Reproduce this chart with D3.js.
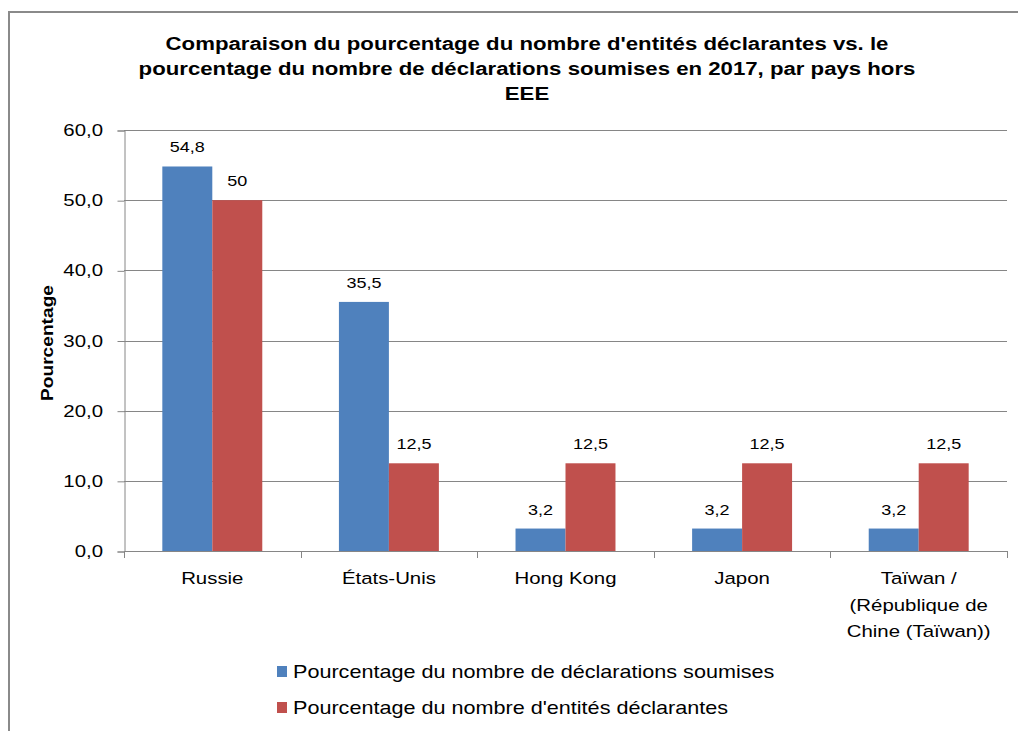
<!DOCTYPE html>
<html>
<head>
<meta charset="utf-8">
<script src="https://cdn.jsdelivr.net/npm/d3@7"></script>
<style>
  body { margin: 0; background: #fff; }
  text { font-family: "Liberation Sans", Arial, sans-serif; fill: #000; }
</style>
</head>
<body>
<script>
// chart data
var categories = ["Russie", "États-Unis", "Hong Kong", "Japon", "Taïwan / (République de Chine (Taïwan))"];
var categoryLines = [["Russie"], ["États-Unis"], ["Hong Kong"], ["Japon"], ["Taïwan /", "(République de", "Chine (Taïwan))"]];
var seriesNames = ["Pourcentage du nombre de déclarations soumises", "Pourcentage du nombre d'entités déclarantes"];
var declarations = [54.8, 35.5, 3.2, 3.2, 3.2];
var entites = [50, 12.5, 12.5, 12.5, 12.5];
var declLabels = ["54,8", "35,5", "3,2", "3,2", "3,2"];
var entLabels = ["50", "12,5", "12,5", "12,5", "12,5"];
var yTicks = [0, 10, 20, 30, 40, 50, 60];
var titleLines = [
    "Comparaison du pourcentage du nombre d'entités déclarantes vs. le",
    "pourcentage du nombre de déclarations soumises en 2017, par pays hors",
    "EEE"
];
var colors = ["#4F81BD", "#C0504D"];

var W = 1018, H = 731, SX = 1.2;
var plot = {left: 124, right: 1007, top: 130, bottom: 551};

var svg = d3.select('body').append('svg')
    .attr('width', W)
    .attr('height', H);

// text is drawn slightly widened, like in the picture
function label(g, x, y, str, size, anchor, weight) {
    return g.append('text')
        .attr('transform', 'translate(' + x + ',' + y + ') scale(' + SX + ',1)')
        .attr('text-anchor', anchor || 'middle')
        .style('font-size', size + 'px')
        .style('font-weight', weight || 'normal')
        .text(str);
}

// outer frame (top and left edge only are visible)
svg.append('path')
    .attr('d', 'M9,' + H + 'V12H' + W)
    .attr('fill', 'none')
    .attr('stroke', '#8a8a8a')
    .attr('stroke-width', 2);

var y = d3.scaleLinear().domain([0, 60]).range([plot.bottom, plot.top]);
var x0 = d3.scaleBand().domain(categories).range([plot.left, plot.right])
    .paddingInner(0.434).paddingOuter(0.217);
var x1 = d3.scaleBand().domain([0, 1]).range([0, x0.bandwidth()]);
var step = x0.step();

// gridlines
svg.append('g').selectAll('line').data(yTicks.slice(1)).join('line')
    .attr('x1', plot.left).attr('x2', plot.right)
    .attr('y1', function (d) { return Math.round(y(d)) + 0.5; })
    .attr('y2', function (d) { return Math.round(y(d)) + 0.5; })
    .attr('stroke', '#868686');

// y axis
var yAxis = svg.append('g')
    .attr('transform', 'translate(' + (plot.left + 0.5) + ',0.5)')
    .call(d3.axisLeft(y).tickValues(yTicks).tickSize(7).tickFormat(''));
yAxis.select('.domain').attr('stroke', '#868686');
yAxis.selectAll('.tick line').attr('stroke', '#868686');
yTicks.forEach(function (t) {
    label(svg, 103, y(t) + 6, d3.format('.1f')(t).replace('.', ','), 17, 'end');
});

// x axis
svg.append('line')
    .attr('x1', plot.left).attr('x2', plot.right)
    .attr('y1', plot.bottom + 0.5).attr('y2', plot.bottom + 0.5)
    .attr('stroke', '#868686');
svg.append('g').selectAll('line').data(d3.range(categories.length + 1)).join('line')
    .attr('x1', function (i) { return Math.round(plot.left + i * step) + 0.5; })
    .attr('x2', function (i) { return Math.round(plot.left + i * step) + 0.5; })
    .attr('y1', plot.bottom).attr('y2', plot.bottom + 7)
    .attr('stroke', '#868686');

// bars
var groups = svg.append('g').selectAll('g').data(categories).join('g')
    .attr('transform', function (d) { return 'translate(' + x0(d) + ',0)'; });

[declarations, entites].forEach(function (vals, s) {
    groups.append('rect')
        .attr('x', x1(s))
        .attr('width', x1.bandwidth())
        .attr('y', function (d, i) { return y(vals[i]); })
        .attr('height', function (d, i) { return plot.bottom - y(vals[i]); })
        .attr('fill', colors[s]);
});

// data labels
var labs = [declLabels, entLabels];
var vals = [declarations, entites];
categories.forEach(function (c, i) {
    [0, 1].forEach(function (s) {
        label(svg, x0(c) + x1(s) + x1.bandwidth() / 2, y(vals[s][i]) - 14, labs[s][i], 15);
    });
});

// category labels
categories.forEach(function (c, i) {
    categoryLines[i].forEach(function (ln, k) {
        label(svg, x0(c) + x0.bandwidth() / 2, 584 + k * 26.5, ln, 17);
    });
});

// y title
svg.append('text')
    .attr('transform', 'translate(53,343) rotate(-90)')
    .attr('text-anchor', 'middle')
    .style('font-size', '17px')
    .style('font-weight', 'bold')
    .attr('textLength', 116)
    .attr('lengthAdjust', 'spacingAndGlyphs')
    .text('Pourcentage');

// title
titleLines.forEach(function (t, i) {
    label(svg, 527, 50 + i * 25, t, 18.5, 'middle', 'bold');
});

// legend
seriesNames.forEach(function (n, i) {
    var ly = 672 + i * 36;
    svg.append('rect')
        .attr('x', 277).attr('y', ly - 6)
        .attr('width', 10).attr('height', 11)
        .attr('fill', colors[i]);
    label(svg, 293, ly + 6, n, 18, 'start');
});
</script>
</body>
</html>
